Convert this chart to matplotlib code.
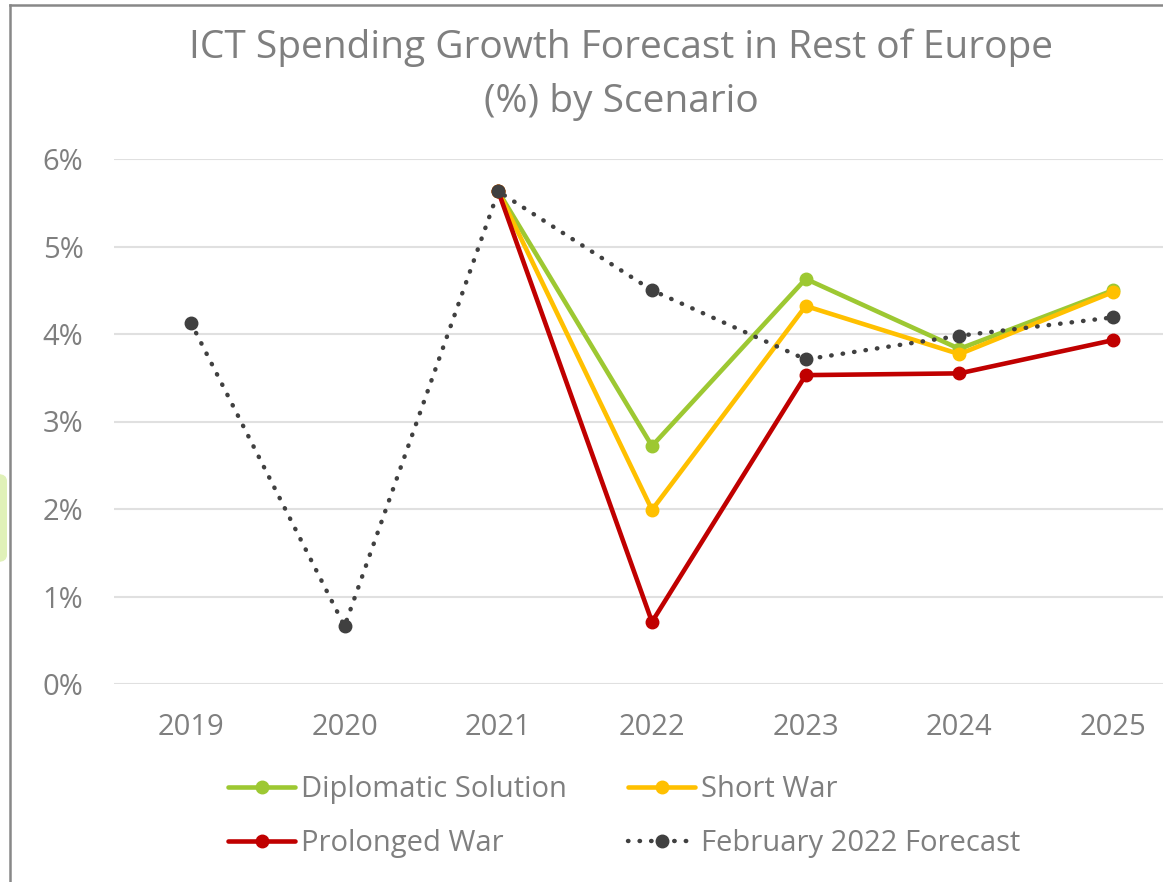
import matplotlib
matplotlib.use("Agg")
import matplotlib.pyplot as plt
from matplotlib.lines import Line2D
from matplotlib.patches import FancyBboxPatch

plt.rcParams['font.family'] = ['Open Sans', 'DejaVu Sans']

years = ["2019", "2020", "2021", "2022", "2023", "2024", "2025"]
feb_forecast = [4.13, 0.66, 5.63, 4.50, 3.71, 3.98, 4.19]
diplomatic = [None, None, 5.63, 2.72, 4.63, 3.83, 4.50]
short_war = [None, None, 5.63, 1.99, 4.32, 3.77, 4.48]
prolonged = [None, None, 5.63, 0.71, 3.53, 3.55, 3.93]
yticks = [0, 1, 2, 3, 4, 5, 6]
title = "ICT Spending Growth Forecast in Rest of Europe\n(%) by Scenario"

GRAY = "#7f7f7f"
FS = 21
fig = plt.figure(figsize=(11.63, 8.82), dpi=100)
ax = fig.add_axes([114/1163, 1-684/882, (1190-114)/1163, (684-159)/882])

x = list(range(len(years)))

def sub(vals):
    xs = [i for i, v in zip(x, vals) if v is not None]
    ys = [v for v in vals if v is not None]
    return xs, ys

h_dip, = ax.plot(*sub(diplomatic), color="#9dc832", lw=3.3, marker="o", ms=9,
                 label="Diplomatic Solution", solid_capstyle="round", zorder=3)
h_short, = ax.plot(*sub(short_war), color="#ffc000", lw=3.3, marker="o", ms=9,
                   label="Short War", solid_capstyle="round", zorder=3)
h_prol, = ax.plot(*sub(prolonged), color="#c00000", lw=3.3, marker="o", ms=9,
                  label="Prolonged War", solid_capstyle="round", zorder=3)
h_feb, = ax.plot(x, feb_forecast, color="#404040", lw=3.2, linestyle=(0, (0.1, 2.5)),
                 dash_capstyle="round", marker="o", ms=9,
                 label="February 2022 Forecast", zorder=4)

ax.set_xlim(-0.5, 6.5)
ax.set_ylim(0, 6)
ax.set_yticks(yticks)
ax.set_yticklabels([f"{t}%" for t in yticks])
ax.set_xticks(x)
ax.set_xticklabels(years)
ax.tick_params(axis="both", length=0, labelsize=FS, labelcolor=GRAY)
ax.tick_params(axis="y", pad=22)
ax.tick_params(axis="x", pad=21)
ax.grid(axis="y", color="#e0e0e0", lw=1.5)
ax.set_axisbelow(True)
for s in ax.spines.values():
    s.set_visible(False)

fig.text(621/1163, 1-75/882, title, ha="center", va="center", fontsize=28,
         color=GRAY, linespacing=1.55)

leg = fig.legend(handles=[h_dip, h_prol, h_short, h_feb], ncol=2,
                 loc="upper left", bbox_to_anchor=(228/1163, 1-775/882),
                 frameon=False, fontsize=FS, labelcolor=GRAY,
                 handlelength=2.3, handletextpad=0.2, columnspacing=2.1,
                 labelspacing=0.85, borderaxespad=0, borderpad=0)

# frame lines
fig.add_artist(Line2D([10/1163, 10/1163], [0, 1-5/882], transform=fig.transFigure,
                      color="#888888", lw=1.8))
fig.add_artist(Line2D([10/1163, 1], [1-5/882, 1-5/882], transform=fig.transFigure,
                      color="#888888", lw=1.8))
fig.add_artist(FancyBboxPatch((-12/1163, 1-562/882), 19/1163, 88/882,
                              boxstyle="round,pad=0,rounding_size=0.008",
                              transform=fig.transFigure, facecolor="#e0f1b8",
                              edgecolor="none"))

fig.savefig("out.png", dpi=100)
